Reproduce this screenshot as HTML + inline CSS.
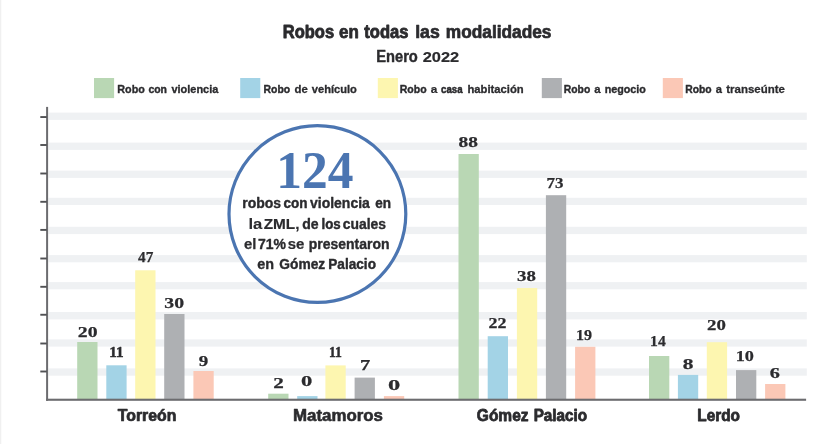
<!DOCTYPE html>
<html lang="es"><head><meta charset="utf-8"><title>Robos en todas las modalidades</title>
<style>html,body{margin:0;padding:0;background:#fff}body{width:829px;height:444px;overflow:hidden}svg{display:block}text{white-space:pre}.sb{font-family:"Liberation Sans",Arial,sans-serif;font-weight:bold;fill:#2b2b2e;stroke:#2b2b2e;stroke-linejoin:round}.se{font-family:"Liberation Serif","DejaVu Serif",serif;font-weight:bold;fill:#2b2b2e;stroke:#2b2b2e;stroke-linejoin:round}.big{fill:#4b75b1;stroke:none}</style></head><body>
<svg width="829" height="444" viewBox="0 0 829 444">
<rect width="829" height="444" fill="#fff"/>
<rect x="0" y="0" width="1.3" height="444" fill="#f0f0f0"/>
<rect x="48.5" y="112.6" width="758.3" height="7.3" fill="#eff1f3"/>
<rect x="48.5" y="142.6" width="758.3" height="7.3" fill="#eff1f3"/>
<rect x="48.5" y="170.6" width="758.3" height="7.3" fill="#eff1f3"/>
<rect x="48.5" y="197.8" width="758.3" height="7.2" fill="#eff1f3"/>
<rect x="48.5" y="226.8" width="758.3" height="7.3" fill="#eff1f3"/>
<rect x="48.5" y="255.1" width="758.3" height="7.2" fill="#eff1f3"/>
<rect x="48.5" y="282.1" width="758.3" height="7.2" fill="#eff1f3"/>
<rect x="48.5" y="312.0" width="758.3" height="7.4" fill="#eff1f3"/>
<rect x="48.5" y="339.4" width="758.3" height="7.2" fill="#eff1f3"/>
<rect x="48.5" y="368.4" width="758.3" height="7.3" fill="#eff1f3"/>
<rect x="77.2" y="342.0" width="20.3" height="57.2" fill="#b9d7b4"/>
<rect x="106.3" y="365.3" width="20.3" height="33.9" fill="#a3d3e6"/>
<rect x="135.2" y="270.3" width="20.3" height="128.9" fill="#fdf6b0"/>
<rect x="164.2" y="314.0" width="20.3" height="85.2" fill="#aeb0b3"/>
<rect x="193.4" y="371.0" width="20.3" height="28.2" fill="#fbc8b6"/>
<rect x="268.2" y="393.7" width="20.3" height="5.5" fill="#b9d7b4"/>
<rect x="297.2" y="396.1" width="20.3" height="3.1" fill="#a3d3e6"/>
<rect x="325.4" y="365.4" width="20.3" height="33.8" fill="#fdf6b0"/>
<rect x="354.6" y="377.6" width="20.3" height="21.6" fill="#aeb0b3"/>
<rect x="383.9" y="396.1" width="20.3" height="3.1" fill="#fbc8b6"/>
<rect x="458.5" y="154.0" width="20.3" height="245.2" fill="#b9d7b4"/>
<rect x="487.7" y="336.2" width="20.3" height="63.0" fill="#a3d3e6"/>
<rect x="516.9" y="288.0" width="20.3" height="111.2" fill="#fdf6b0"/>
<rect x="545.9" y="195.2" width="20.3" height="204.0" fill="#aeb0b3"/>
<rect x="575.1" y="346.8" width="20.3" height="52.4" fill="#fbc8b6"/>
<rect x="649.0" y="356.0" width="20.3" height="43.2" fill="#b9d7b4"/>
<rect x="677.9" y="374.9" width="20.3" height="24.3" fill="#a3d3e6"/>
<rect x="706.8" y="342.2" width="20.3" height="57.0" fill="#fdf6b0"/>
<rect x="736.0" y="370.1" width="20.3" height="29.1" fill="#aeb0b3"/>
<rect x="765.1" y="384.0" width="20.3" height="15.2" fill="#fbc8b6"/>
<rect x="46.1" y="106.9" width="2" height="293.9" fill="#6c6c6f"/>
<rect x="46.1" y="398.7" width="760" height="2.1" fill="#6c6c6f"/>
<rect x="40.3" y="116.10" width="6.5" height="1.9" fill="#505154"/>
<rect x="40.3" y="144.05" width="6.5" height="1.9" fill="#505154"/>
<rect x="40.3" y="172.55" width="6.5" height="1.9" fill="#505154"/>
<rect x="40.3" y="200.85" width="6.5" height="1.9" fill="#505154"/>
<rect x="40.3" y="228.95" width="6.5" height="1.9" fill="#505154"/>
<rect x="40.3" y="257.55" width="6.5" height="1.9" fill="#505154"/>
<rect x="40.3" y="285.85" width="6.5" height="1.9" fill="#505154"/>
<rect x="40.3" y="313.80" width="6.5" height="1.9" fill="#505154"/>
<rect x="40.3" y="342.55" width="6.5" height="1.9" fill="#505154"/>
<rect x="40.3" y="370.55" width="6.5" height="1.9" fill="#505154"/>
<rect x="94.0" y="78" width="20.1" height="20.1" fill="#b9d7b4"/>
<rect x="240.2" y="78" width="20.1" height="20.1" fill="#a3d3e6"/>
<rect x="377.8" y="78" width="20.1" height="20.1" fill="#fdf6b0"/>
<rect x="541.8" y="78" width="20.1" height="20.1" fill="#aeb0b3"/>
<rect x="662.8" y="78" width="20.1" height="20.1" fill="#fbc8b6"/>
<circle cx="317.4" cy="214.05" r="88.4" fill="#fff" stroke="#4b75b1" stroke-width="3.2"/>
<text class="sb" y="37.6" font-size="18.0"><tspan x="282.75" textLength="51.41" lengthAdjust="spacingAndGlyphs" stroke-width="0.82">Robos</tspan> <tspan x="339.10" textLength="19.83" lengthAdjust="spacingAndGlyphs" stroke-width="0.75">en</tspan> <tspan x="364.25" textLength="44.16" lengthAdjust="spacingAndGlyphs" stroke-width="0.82">todas</tspan> <tspan x="415.20" textLength="24.63" lengthAdjust="spacingAndGlyphs" stroke-width="0.66">las</tspan> <tspan x="445.80" textLength="105.65" lengthAdjust="spacingAndGlyphs" stroke-width="0.71">modalidades</tspan></text>
<text class="sb" y="62.4" font-size="16.1"><tspan x="376.20" textLength="41.66" lengthAdjust="spacingAndGlyphs" stroke-width="0.42">Enero</tspan> <tspan x="422.65" textLength="36.49" lengthAdjust="spacingAndGlyphs" stroke-width="0.19" font-size="14.6">2022</tspan></text>
<text class="sb" y="92.5" font-size="11.4"><tspan x="117.30" textLength="27.50" lengthAdjust="spacingAndGlyphs" stroke-width="0.36">Robo</tspan> <tspan x="148.40" textLength="18.54" lengthAdjust="spacingAndGlyphs" stroke-width="0.41">con</tspan> <tspan x="171.40" textLength="46.95" lengthAdjust="spacingAndGlyphs" stroke-width="0.34">violencia</tspan></text>
<text class="sb" y="92.5" font-size="11.4"><tspan x="263.60" textLength="26.60" lengthAdjust="spacingAndGlyphs" stroke-width="0.41">Robo</tspan> <tspan x="294.50" textLength="13.31" lengthAdjust="spacingAndGlyphs" stroke-width="0.28">de</tspan> <tspan x="311.80" textLength="45.05" lengthAdjust="spacingAndGlyphs" stroke-width="0.32">vehículo</tspan></text>
<text class="sb" y="92.5" font-size="11.4"><tspan x="399.80" textLength="26.80" lengthAdjust="spacingAndGlyphs" stroke-width="0.4">Robo</tspan> <tspan x="430.70" textLength="6.63" lengthAdjust="spacingAndGlyphs" stroke-width="0.2">a</tspan> <tspan x="441.10" textLength="21.44" lengthAdjust="spacingAndGlyphs" stroke-width="0.52">casa</tspan> <tspan x="467.45" textLength="56.20" lengthAdjust="spacingAndGlyphs" stroke-width="0.3">habitación</tspan></text>
<text class="sb" y="92.5" font-size="11.4"><tspan x="563.80" textLength="26.40" lengthAdjust="spacingAndGlyphs" stroke-width="0.42">Robo</tspan> <tspan x="594.30" textLength="6.33" lengthAdjust="spacingAndGlyphs" stroke-width="0.28">a</tspan> <tspan x="604.65" textLength="41.20" lengthAdjust="spacingAndGlyphs" stroke-width="0.37">negocio</tspan></text>
<text class="sb" y="92.5" font-size="11.4"><tspan x="685.20" textLength="26.40" lengthAdjust="spacingAndGlyphs" stroke-width="0.42">Robo</tspan> <tspan x="715.70" textLength="6.23" lengthAdjust="spacingAndGlyphs" stroke-width="0.3">a</tspan> <tspan x="726.25" textLength="58.60" lengthAdjust="spacingAndGlyphs" stroke-width="0.27">transeúnte</tspan></text>
<text class="sb" y="421.0" font-size="16.0"><tspan x="117.80" textLength="58.55" lengthAdjust="spacingAndGlyphs" stroke-width="0.72">Torreón</tspan></text>
<text class="sb" y="421.0" font-size="16.0"><tspan x="293.05" textLength="89.91" lengthAdjust="spacingAndGlyphs" stroke-width="0.57">Matamoros</tspan></text>
<text class="sb" y="421.0" font-size="16.0"><tspan x="476.85" textLength="51.66" lengthAdjust="spacingAndGlyphs" stroke-width="0.76">Gómez</tspan> <tspan x="533.70" textLength="53.36" lengthAdjust="spacingAndGlyphs" stroke-width="0.8">Palacio</tspan></text>
<text class="sb" y="421.0" font-size="16.0"><tspan x="697.30" textLength="42.66" lengthAdjust="spacingAndGlyphs" stroke-width="0.78">Lerdo</tspan></text>
<text class="sb" y="208.4" font-size="14.6"><tspan x="242.20" textLength="38.96" lengthAdjust="spacingAndGlyphs" stroke-width="0.36">robos</tspan> <tspan x="283.45" textLength="23.96" lengthAdjust="spacingAndGlyphs" stroke-width="0.44">con</tspan> <tspan x="310.00" textLength="59.85" lengthAdjust="spacingAndGlyphs" stroke-width="0.37">violencia</tspan> <tspan x="375.35" textLength="15.77" lengthAdjust="spacingAndGlyphs" stroke-width="0.44">en</tspan></text>
<text class="sb" y="228.7" font-size="14.6"><tspan x="248.40" textLength="13.90" lengthAdjust="spacingAndGlyphs" stroke-width="0.1">la</tspan> <tspan x="263.65" textLength="35.78" lengthAdjust="spacingAndGlyphs" stroke-width="0.18">ZML,</tspan> <tspan x="302.25" textLength="16.44" lengthAdjust="spacingAndGlyphs" stroke-width="0.36">de</tspan> <tspan x="321.50" textLength="19.27" lengthAdjust="spacingAndGlyphs" stroke-width="0.46">los</tspan> <tspan x="342.75" textLength="43.32" lengthAdjust="spacingAndGlyphs" stroke-width="0.38">cuales</tspan></text>
<text class="sb" y="249.0" font-size="14.6"><tspan x="243.95" textLength="12.38" lengthAdjust="spacingAndGlyphs" stroke-width="0.25">el</tspan> <tspan x="257.90" textLength="27.99" lengthAdjust="spacingAndGlyphs" stroke-width="0.37">71%</tspan> <tspan x="287.80" textLength="16.62" lengthAdjust="spacingAndGlyphs" stroke-width="0.24">se</tspan> <tspan x="308.85" textLength="80.60" lengthAdjust="spacingAndGlyphs" stroke-width="0.38">presentaron</tspan></text>
<text class="sb" y="268.9" font-size="14.6"><tspan x="257.35" textLength="16.77" lengthAdjust="spacingAndGlyphs" stroke-width="0.32">en</tspan> <tspan x="279.35" textLength="45.86" lengthAdjust="spacingAndGlyphs" stroke-width="0.4">Gómez</tspan> <tspan x="328.30" textLength="47.66" lengthAdjust="spacingAndGlyphs" stroke-width="0.42">Palacio</tspan></text>
<text class="se big" y="188.2" font-size="52.6"><tspan x="276.25" textLength="77.17" lengthAdjust="spacingAndGlyphs">124</tspan></text>
<text class="se" y="337.2" font-size="15.5"><tspan x="77.80" textLength="19.72" lengthAdjust="spacingAndGlyphs" stroke-width="0.25">20</tspan></text>
<text class="se" y="357.3" font-size="15.5"><tspan x="109.30" textLength="14.37" lengthAdjust="spacingAndGlyphs" stroke-width="0.5">11</tspan></text>
<text class="se" y="262.4" font-size="15.5"><tspan x="138.05" textLength="15.24" lengthAdjust="spacingAndGlyphs" stroke-width="0.25">47</tspan></text>
<text class="se" y="307.5" font-size="15.5"><tspan x="164.30" textLength="19.73" lengthAdjust="spacingAndGlyphs" stroke-width="0.25">30</tspan></text>
<text class="se" y="365.8" font-size="15.5"><tspan x="198.75" textLength="9.48" lengthAdjust="spacingAndGlyphs" stroke-width="0.25">9</tspan></text>
<text class="se" y="387.6" font-size="15.5"><tspan x="273.20" textLength="10.55" lengthAdjust="spacingAndGlyphs" stroke-width="0.25">2</tspan></text>
<text class="se" y="385.8" font-size="15.5"><tspan x="301.10" textLength="11.28" lengthAdjust="spacingAndGlyphs" stroke-width="0.25">0</tspan></text>
<text class="se" y="357.4" font-size="15.5"><tspan x="329.05" textLength="12.90" lengthAdjust="spacingAndGlyphs" stroke-width="0.5">11</tspan></text>
<text class="se" y="369.6" font-size="15.5"><tspan x="359.90" textLength="10.25" lengthAdjust="spacingAndGlyphs" stroke-width="0.25">7</tspan></text>
<text class="se" y="390.4" font-size="15.5"><tspan x="387.90" textLength="12.21" lengthAdjust="spacingAndGlyphs" stroke-width="0.25">0</tspan></text>
<text class="se" y="147.3" font-size="15.5"><tspan x="458.55" textLength="19.35" lengthAdjust="spacingAndGlyphs" stroke-width="0.25">88</tspan></text>
<text class="se" y="327.9" font-size="15.5"><tspan x="488.55" textLength="17.93" lengthAdjust="spacingAndGlyphs" stroke-width="0.25">22</tspan></text>
<text class="se" y="281.0" font-size="15.5"><tspan x="517.00" textLength="18.82" lengthAdjust="spacingAndGlyphs" stroke-width="0.25">38</tspan></text>
<text class="se" y="187.5" font-size="15.5"><tspan x="546.45" textLength="16.93" lengthAdjust="spacingAndGlyphs" stroke-width="0.25">73</tspan></text>
<text class="se" y="339.7" font-size="15.5"><tspan x="575.90" textLength="16.05" lengthAdjust="spacingAndGlyphs" stroke-width="0.25">19</tspan></text>
<text class="se" y="346.1" font-size="15.5"><tspan x="650.10" textLength="15.64" lengthAdjust="spacingAndGlyphs" stroke-width="0.25">14</tspan></text>
<text class="se" y="369.4" font-size="15.5"><tspan x="682.80" textLength="10.69" lengthAdjust="spacingAndGlyphs" stroke-width="0.25">8</tspan></text>
<text class="se" y="330.4" font-size="15.5"><tspan x="707.10" textLength="18.82" lengthAdjust="spacingAndGlyphs" stroke-width="0.25">20</tspan></text>
<text class="se" y="361.4" font-size="15.5"><tspan x="735.65" textLength="18.23" lengthAdjust="spacingAndGlyphs" stroke-width="0.25">10</tspan></text>
<text class="se" y="378.3" font-size="15.5"><tspan x="769.70" textLength="10.10" lengthAdjust="spacingAndGlyphs" stroke-width="0.25">6</tspan></text>
</svg></body></html>
